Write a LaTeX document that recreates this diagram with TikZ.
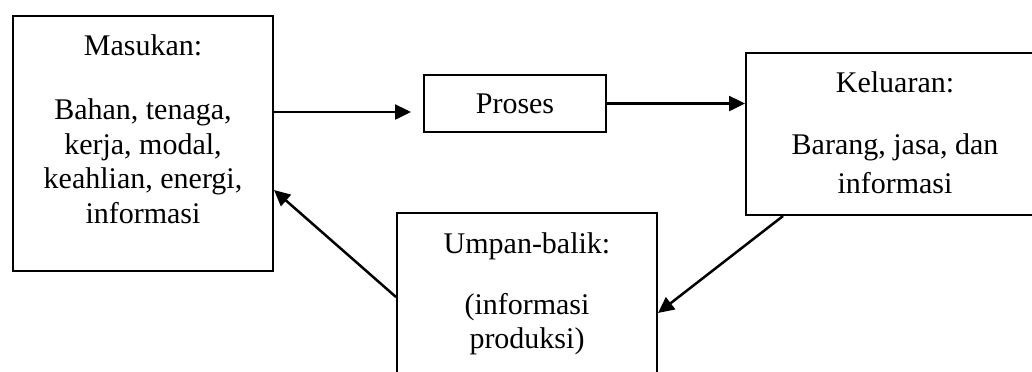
\documentclass[tikz,border=0pt]{standalone}
\usepackage{fontspec}
\setmainfont{Liberation Serif}
\usetikzlibrary{positioning,arrows.meta}

\tikzset{
  kotak/.style={draw, line width=0.8pt, inner sep=0pt, anchor=north west},
  isi/.style={inner sep=0pt, align=center, font=\fontsize{12}{13.9}\selectfont},
  panah/.style={line width=1pt, -{Triangle[length=6.4pt,width=6pt]}},
}

\begin{document}
\begin{tikzpicture}[x=1pt,y=1pt]
\useasboundingbox (0,0) rectangle (412.8,-148.4);
\clip (0,0) rectangle (412.8,-148.4);
% kotak
\node [kotak, minimum width=104pt, minimum height=102pt] (masukan) at (4.8,-6) {};
\node [kotak, minimum width=72.8pt, minimum height=22.8pt] (proses) at (169.2,-29.6) {};
\node [kotak, minimum width=119.2pt, minimum height=64.8pt] (keluaran) at (298,-20.8) {};
\node [kotak, minimum width=104pt, minimum height=72pt] (umpan) at (158.4,-84.8) {};
% tulisan
\node [isi, below=7.6pt of masukan.north] (tmasukan) {Masukan:\\[11.7pt] Bahan, tenaga,\\ kerja, modal,\\ keahlian, energi,\\ informasi};
\node [isi] (tproses) at (proses) {Proses};
\node [isi, font=\fontsize{12}{15.6}\selectfont, below=7.6pt of keluaran.north] (tkeluaran) {Keluaran:\\[9.2pt] Barang, jasa, dan\\ informasi};
\node [isi, font=\fontsize{12}{13.6}\selectfont, below=8pt of umpan.north] (tumpan) {Umpan-balik:\\[10.8pt] (informasi\\ produksi)};
% panah
\draw [panah, shorten >=4.8pt] ([yshift=-38.8pt]masukan.north east) -- ([yshift=-15.2pt]proses.north west);
\draw [panah] (proses.east) -- (proses.east -| keluaran.west);
\draw [panah] ([xshift=-44.8pt]keluaran.south) -- ([yshift=-40.4pt]umpan.north east);
\draw [panah] ([yshift=-34pt]umpan.north west) -- ([yshift=-70pt]masukan.north east);
\end{tikzpicture}
\end{document}
